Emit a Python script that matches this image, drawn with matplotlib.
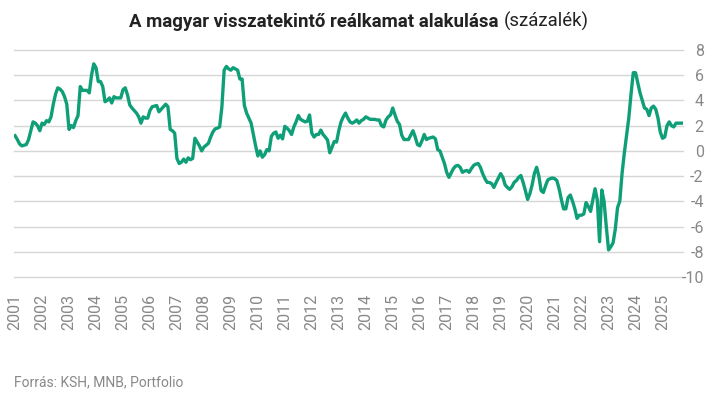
import numpy as np
import matplotlib
matplotlib.use("Agg")
import matplotlib.pyplot as plt

# havi adatok, 2001 január - 2025 október
ertek_2001 = [1.2, 0.9, 0.55, 0.4, 0.45, 0.5, 0.9, 1.6, 2.3, 2.2, 2.0, 1.6]
ertek_2002 = [2.2, 2.1, 2.4, 2.3, 2.7, 3.7, 4.5, 5.0, 4.9, 4.7, 4.3, 3.7]
ertek_2003 = [1.7, 2.0, 1.85, 2.4, 2.8, 5.1, 4.8, 4.8, 4.8, 4.6, 6.0, 6.9]
ertek_2004 = [6.6, 5.5, 5.5, 5.1, 3.9, 4.0, 4.2, 3.8, 4.3, 4.2, 4.2, 4.2]
ertek_2005 = [4.85, 5.0, 4.45, 3.65, 3.4, 3.2, 3.0, 2.7, 2.2, 2.7, 2.6, 2.6]
ertek_2006 = [3.2, 3.5, 3.55, 3.6, 3.1, 3.3, 3.5, 3.7, 3.5, 1.7, 1.6, 1.4]
ertek_2007 = [-0.6, -1.0, -0.9, -0.65, -0.9, -0.55, -0.7, -0.6, 1.0, 0.7, 0.4, 0.0]
ertek_2008 = [0.3, 0.45, 0.6, 1.1, 1.5, 1.75, 1.8, 1.9, 3.5, 6.4, 6.7, 6.5]
ertek_2009 = [6.4, 6.6, 6.5, 6.4, 5.7, 5.7, 3.6, 3.0, 2.6, 2.2, 1.3, 0.4]
ertek_2010 = [-0.4, 0.0, -0.5, -0.3, 0.1, 0.0, 1.15, 1.4, 1.5, 1.0, 1.25, 0.95]
ertek_2011 = [1.95, 1.8, 1.6, 1.3, 1.9, 2.3, 2.8, 2.5, 2.4, 2.3, 2.35, 2.85]
ertek_2012 = [1.4, 1.1, 1.3, 1.3, 1.65, 1.3, 1.1, 0.85, -0.15, 0.3, 0.75, 0.7]
ertek_2013 = [1.6, 2.3, 2.7, 3.0, 2.6, 2.3, 2.2, 2.3, 2.45, 2.2, 2.4, 2.5]
ertek_2014 = [2.7, 2.6, 2.5, 2.5, 2.5, 2.45, 2.45, 2.0, 1.9, 2.45, 2.7, 2.85]
ertek_2015 = [3.4, 2.85, 2.35, 2.1, 1.25, 0.9, 0.9, 0.9, 1.25, 1.6, 1.1, 0.5]
ertek_2016 = [0.4, 0.8, 1.3, 0.9, 1.0, 1.05, 1.1, 0.95, 0.1, 0.0, -0.5, -1.0]
ertek_2017 = [-1.7, -2.1, -1.75, -1.4, -1.2, -1.15, -1.3, -1.7, -1.6, -1.55, -1.7, -1.4]
ertek_2018 = [-1.15, -1.05, -1.0, -1.3, -1.8, -2.2, -2.5, -2.5, -2.6, -2.9, -2.5, -2.15]
ertek_2019 = [-1.8, -2.1, -2.7, -2.9, -3.05, -2.85, -2.5, -2.35, -2.1, -1.95, -2.5, -3.15]
ertek_2020 = [-3.85, -3.4, -2.7, -1.8, -1.3, -2.0, -3.15, -3.3, -2.75, -2.3, -2.2, -2.15]
ertek_2021 = [-2.2, -2.35, -3.0, -3.85, -4.6, -4.6, -3.7, -3.5, -4.0, -4.6, -5.35, -5.1]
ertek_2022 = [-5.1, -5.0, -4.1, -4.4, -4.8, -3.9, -3.0, -3.9, -7.2, -3.1, -4.0, -6.0]
ertek_2023 = [-7.85, -7.6, -7.3, -6.2, -4.5, -4.0, -1.8, -0.2, 1.2, 2.6, 4.5, 6.2]
ertek_2024 = [6.2, 5.4, 4.6, 4.0, 3.4, 3.3, 2.8, 3.4, 3.55, 3.3, 2.6, 1.5]
ertek_2025 = [1.0, 1.1, 2.0, 2.3, 2.0, 1.9, 2.2, 2.2, 2.2, 2.2]

ertekek = (ertek_2001 + ertek_2002 + ertek_2003 + ertek_2004 + ertek_2005 + ertek_2006
           + ertek_2007 + ertek_2008 + ertek_2009 + ertek_2010 + ertek_2011 + ertek_2012
           + ertek_2013 + ertek_2014 + ertek_2015 + ertek_2016 + ertek_2017 + ertek_2018
           + ertek_2019 + ertek_2020 + ertek_2021 + ertek_2022 + ertek_2023 + ertek_2024
           + ertek_2025)
evek = list(range(2001, 2026))
y_tickek = [-10, -8, -6, -4, -2, 0, 2, 4, 6, 8]

ido = 2001 + np.arange(len(ertekek)) / 12

plt.rcParams['font.family'] = ['Roboto', 'DejaVu Sans']
plt.rcParams['axes.unicode_minus'] = False

fig = plt.figure(figsize=(7.18, 3.99), dpi=100)
ax = fig.add_axes([14 / 718, 1 - 277 / 399, (683 - 14) / 718, (277 - 50) / 399])

ax.plot(ido, ertekek, color='#0f9f78', linewidth=2.4, solid_joinstyle='round', zorder=3)

ax.set_xlim(2001 - 0.04, ido[-1] + 0.01)
ax.set_ylim(-10, 8)
ax.set_yticks(y_tickek)
ax.set_xticks(evek)
ax.set_xticklabels([str(e) for e in evek], rotation=90, va='top')

ax.grid(axis='y', color='#d6d6d6', linewidth=1)
ax.grid(axis='x', visible=False)
for g in ax.get_ygridlines():
    g.set_clip_on(False)
for s in ax.spines.values():
    s.set_visible(False)
ax.yaxis.tick_right()
ax.tick_params(axis='both', length=0, colors='#888888', labelsize=11.5)
ax.tick_params(axis='y', pad=15)
ax.tick_params(axis='x', pad=12)
for lab in ax.get_yticklabels():
    lab.set_horizontalalignment('right')

# cím két részben: félkövér + normál, középre igazítva
cim_y = 1 - 27 / 399
t1 = fig.text(0, cim_y, 'A magyar visszatekintő reálkamat alakulása',
              fontsize=13.4, fontweight='bold', color='#222222', va='baseline', ha='left')
t2 = fig.text(0, cim_y, '(százalék)',
              fontsize=13.4, color='#222222', va='baseline', ha='left')
fig.canvas.draw()
w1 = t1.get_window_extent().width
w2 = t2.get_window_extent().width
res = 5
bal = 359 - (w1 + res + w2) / 2
t1.set_x(bal / 718)
t2.set_x((bal + w1 + res) / 718)

fig.text(14 / 718, 1 - 386 / 399, 'Forrás: KSH, MNB, Portfolio',
         fontsize=10, color='#888888', va='baseline', ha='left')

fig.savefig('out.png', dpi=100)
